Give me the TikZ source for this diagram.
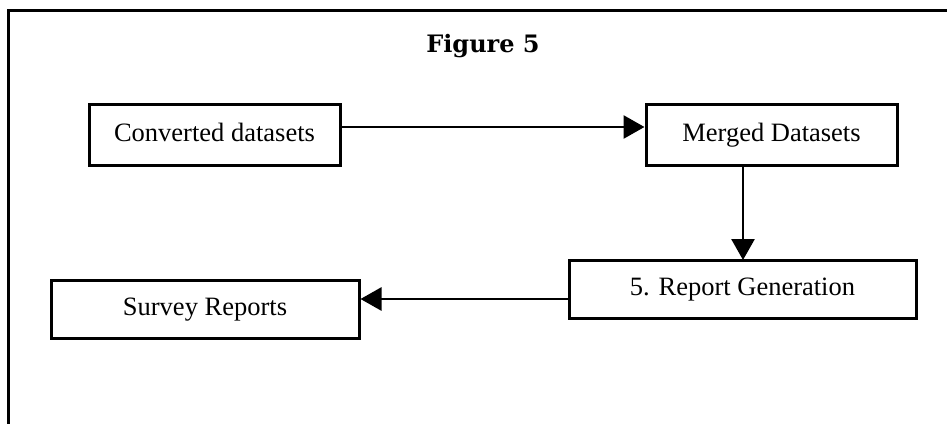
\documentclass[tikz,border=0pt]{standalone}
\usepackage{fontspec}
\setmainfont{Liberation Serif}
\newfontfamily\titlefont{DejaVu Serif}
\usetikzlibrary{arrows.meta}
\tikzset{
  box/.style={draw, line width=3pt, inner sep=0pt, text height=18pt, text depth=5pt, font=\fontsize{26.5}{30}\selectfont},
  conn/.style={line width=2.8pt, -{Triangle[length=21pt,width=23pt]}},
  frame/.style={line width=3pt}
}
\begin{document}
\begin{tikzpicture}[x=1pt,y=-1pt]
\useasboundingbox (0,0) rectangle (947,423);
\coordinate (fc) at (8,10);
\coordinate (fr) at (948,10);
\coordinate (fb) at (8,424);
\draw[frame] (fr) -- (fc) -- (fb);
\node (title) at (483,46) {\titlefont\bfseries\fontsize{24}{28}\selectfont Figure 5};
\node[box, minimum width=251pt, minimum height=61pt] (conv) at (214.5,134.5) {Converted datasets};
\node[box, minimum width=251pt, minimum height=61pt] (merged) at (771.5,134.5) {Merged Datasets};
\node[box, minimum width=347pt, minimum height=58pt] (report) at (742.5,289) {5. Report Generation};
\node[box, minimum width=308pt, minimum height=58pt] (survey) at (205,309) {Survey Reports};
\draw[conn] (conv.east |- 0,127) -- (merged.west |- 0,127);
\draw[conn] (743,165) -- (743,260);
\draw[conn] (report.west |- 0,299) -- (survey.east |- 0,299);
\end{tikzpicture}
\end{document}
